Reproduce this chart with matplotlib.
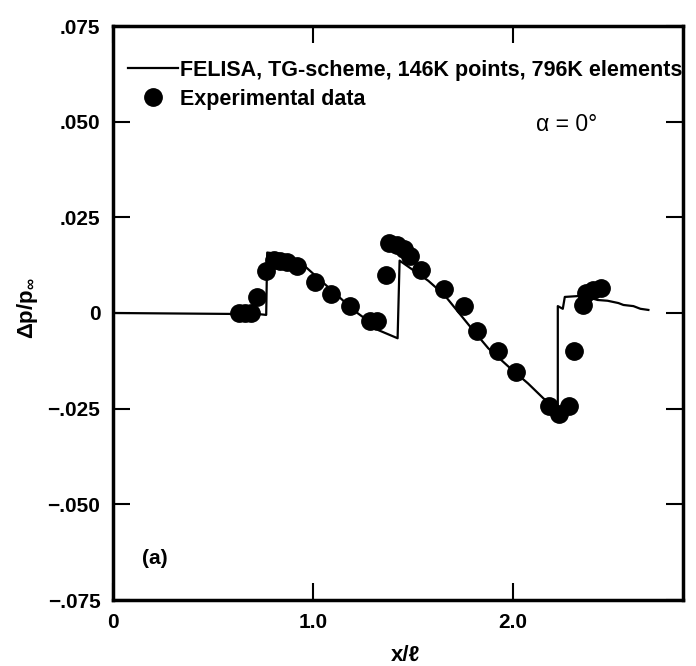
import matplotlib
matplotlib.use('Agg')
import matplotlib.pyplot as plt

plt.rcParams['font.family'] = ['Liberation Sans', 'DejaVu Sans']
plt.rcParams['mathtext.fontset'] = 'custom'
plt.rcParams['mathtext.rm'] = 'Liberation Sans:bold'
plt.rcParams['mathtext.bf'] = 'Liberation Sans:bold'
plt.rcParams['mathtext.it'] = 'Liberation Sans:bold'

# FELISA computed pressure signature
felisa_x = [0.0, 0.731, 0.766, 0.771, 0.846, 0.945, 1.209, 1.269, 1.328, 1.423,
            1.433, 1.577, 1.657, 1.791, 1.876, 1.975, 2.075, 2.154, 2.214, 2.224,
            2.224, 2.249, 2.259, 2.348, 2.423, 2.473, 2.527, 2.552, 2.602, 2.637, 2.677]
felisa_y = [0.0, -0.0003, -0.0005, 0.0158, 0.0153, 0.0129, 0.0005, -0.0018, -0.0045, -0.0066,
            0.0137, 0.0084, 0.0047, -0.0039, -0.0092, -0.0139, -0.0184, -0.0224, -0.0242, -0.0242,
            0.0018, 0.0011, 0.0042, 0.0045, 0.0034, 0.0032, 0.0026, 0.0021, 0.0018, 0.0011, 0.0008]

# experimental data
exp_x = [0.632, 0.662, 0.692, 0.721, 0.766, 0.806, 0.836, 0.871, 0.920, 1.010,
         1.090, 1.184, 1.284, 1.318, 1.363, 1.378, 1.418, 1.453, 1.483, 1.542,
         1.657, 1.756, 1.821, 1.925, 2.015, 2.179, 2.229, 2.279, 2.303, 2.348,
         2.363, 2.398, 2.438]
exp_y = [0.0, 0.0, 0.0, 0.0042, 0.011, 0.0139, 0.0137, 0.0132, 0.0124, 0.0082,
         0.005, 0.0018, -0.0021, -0.0021, 0.010, 0.0182, 0.0179, 0.0166, 0.015, 0.0113,
         0.0063, 0.0018, -0.0047, -0.010, -0.0153, -0.0242, -0.0263, -0.0242, -0.010, 0.0021,
         0.0053, 0.006, 0.0066]

xticks = [0, 1.0, 2.0]
xtick_labels = ['0', '1.0', '2.0']
yticks = [0.075, 0.05, 0.025, 0.0, -0.025, -0.05, -0.075]
ytick_labels = ['.075', '.050', '.025', '0', '\u2212.025', '\u2212.050', '\u2212.075']

fig = plt.figure(figsize=(6.96, 6.66), dpi=100)
ax = fig.add_axes([113 / 696, 1 - 600 / 666, 570 / 696, 574 / 666])

ax.plot(felisa_x, felisa_y, color='black', lw=1.6,
        label='FELISA, TG-scheme, 146K points, 796K elements')
ax.plot(exp_x, exp_y, 'o', color='black', ms=12.5, label='Experimental data')

ax.set_xlim(0, 2.85)
ax.set_ylim(-0.075, 0.075)
ax.set_xticks(xticks)
ax.set_xticklabels(xtick_labels)
ax.set_yticks(yticks)
ax.set_yticklabels(ytick_labels)
ax.tick_params(direction='in', length=12, width=1.5, top=True, right=True,
               labelsize=15, pad=9)
for lbl in ax.get_xticklabels() + ax.get_yticklabels():
    lbl.set_fontweight('bold')
for sp in ax.spines.values():
    sp.set_linewidth(2.5)

leg = ax.legend(loc='upper left', bbox_to_anchor=(15 / 570, 1 - 34 / 574),
                frameon=False, fontsize=15.5, handlelength=2.3, handletextpad=0.1,
                labelspacing=0.35, borderaxespad=0, borderpad=0)
for t in leg.get_texts():
    t.set_fontweight('bold')

ax.text(0.795, 0.828, '\u03b1 = 0\u00b0', transform=ax.transAxes, fontsize=16.5,
        ha='center', va='center')
ax.text(0.074, 0.073, '(a)', transform=ax.transAxes, fontsize=15,
        fontweight='bold', ha='center', va='center')

ax.set_ylabel(r'$\Delta$p/p$_{\infty}$', fontsize=16, fontweight='bold')
ax.yaxis.set_label_coords(-(113 - 40) / 570, 0.509)
ax.set_xlabel('x/\u2113', fontsize=16, fontweight='bold')
ax.xaxis.set_label_coords((406 - 113) / 570, -(645 - 600) / 574)

plt.savefig('out.png', dpi=100)
